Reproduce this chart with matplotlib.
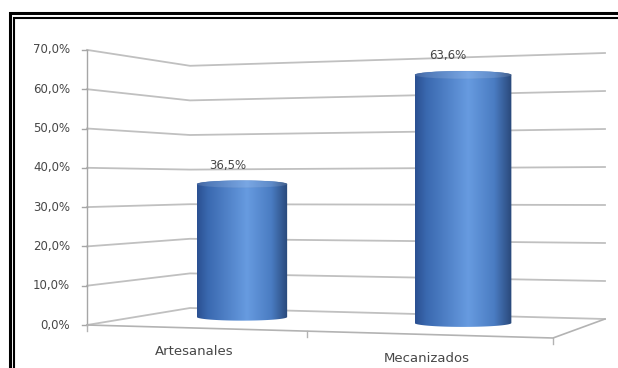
import numpy as np
import matplotlib.pyplot as plt
from matplotlib.patches import Ellipse, Polygon
from matplotlib.colors import LinearSegmentedColormap

categorias = ['Artesanales', 'Mecanizados']
valores = [36.5, 63.6]
etiquetas = ['36,5%', '63,6%']
ticks_y = [0, 10, 20, 30, 40, 50, 60, 70]
ticks_y_txt = ['0,0%', '10,0%', '20,0%', '30,0%', '40,0%', '50,0%', '60,0%', '70,0%']

# perspectiva de las paredes (en pixeles de la figura): x, base, pixeles por 1%
X_FR, Y0_FR, K_FR = 87, 325, 3.93      # arista frontal izquierda
X_ES, Y0_ES, K_ES = 190, 308, 3.46     # esquina del fondo
X_DE, Y0_DE, K_DE = 605, 319, 3.80     # borde derecho del fondo
X_PISO, Y_PISO = 553, 338              # esquina frontal derecha del piso

GRIS = '#c0c0c0'
TXT = '#474747'

cmap = LinearSegmentedColormap.from_list('cil', [
    (0.0, '#2b5091'), (0.12, '#3a69b0'), (0.55, '#679be0'),
    (0.82, '#4a7cc2'), (1.0, '#294879')])


def plano_barra(i):
    # centro, base y escala de la columna i (plano medio de profundidad)
    return 242 + 221 * i, 317 + 6 * i, 3.64 + 0.26 * i


def borde_frontal(u):
    # posicion sobre la arista frontal del piso, u en [0, 2] categorias
    t = u / 2
    f = t * 0.894 / (1 - 0.106 * t)
    return X_FR + f * (X_PISO - X_FR), Y0_FR + f * (Y_PISO - Y0_FR)


def cilindro(ax, xc, base, k, v):
    w = 12.4 * k
    e = 1.0 * k
    top = base - k * v
    t = np.linspace(0, np.pi, 60)
    pts = [(xc + w, top), (xc + w, base)]
    pts += list(zip(xc + w * np.cos(t), base + e * np.sin(t)))
    pts += [(xc - w, top)]
    pts += list(zip(xc + w * np.cos(t[::-1]), top - e * np.sin(t[::-1])))
    clip = Polygon(pts, closed=True, facecolor='none', edgecolor='none')
    ax.add_patch(clip)
    grad = np.linspace(0, 1, 256).reshape(1, -1)
    im = ax.imshow(grad, cmap=cmap, aspect='auto', interpolation='bilinear',
                   extent=(xc - w, xc + w, base + e, top - e), zorder=5)
    im.set_clip_path(clip)
    # tapa superior, apenas mas clara que el cuerpo
    tapa = Ellipse((xc, top), 2 * w, 2 * e, facecolor='none',
                   edgecolor='none')
    ax.add_patch(tapa)
    im2 = ax.imshow(grad, cmap=cmap, aspect='auto', interpolation='bilinear',
                    extent=(xc - w, xc + w, top + e, top - e), zorder=6,
                    alpha=0.9)
    im2.set_clip_path(tapa)
    ax.add_patch(Ellipse((xc, top), 2 * w, 2 * e, facecolor='white',
                         alpha=0.12, edgecolor='#3f6aa8', lw=0.5, zorder=6))
    return top


fig = plt.figure(figsize=(6.18, 3.68), dpi=100)
ax = fig.add_axes([0, 0, 1, 1])
ax.axis('off')

# lineas de division en pared lateral y fondo
for v, txt in zip(ticks_y, ticks_y_txt):
    yf = Y0_FR - K_FR * v
    ax.plot([X_FR, X_ES, X_DE], [yf, Y0_ES - K_ES * v, Y0_DE - K_DE * v],
            color=GRIS, lw=1.3, zorder=1)
    ax.plot([X_FR - 5, X_FR], [yf, yf], color='#a6a6a6', lw=1.0, zorder=2)
    ax.text(X_FR - 17, yf, txt, ha='right', va='center', fontsize=8.5,
            color=TXT, family='DejaVu Sans')

# eje vertical
ax.plot([X_FR, X_FR], [Y0_FR - K_FR * ticks_y[-1], Y0_FR], color='#a6a6a6',
        lw=1.0, zorder=2)

# piso
ax.plot([X_FR, X_PISO, X_DE], [Y0_FR, Y_PISO, Y0_DE], color='#b3b3b3',
        lw=1.2, zorder=2)
for u in [0, 1, 2]:
    x, y = borde_frontal(u)
    ax.plot([x, x], [y, y + 6], color='#b3b3b3', lw=1.0, zorder=2)

# columnas
for i, (cat, v, lab) in enumerate(zip(categorias, valores, etiquetas)):
    xc, base, k = plano_barra(i)
    top = cilindro(ax, xc, base, k, v)
    ax.text(xc - 3.9 * k, top - 5 * k, lab, ha='center', va='center',
            fontsize=8.5, color=TXT, zorder=7)
    x, y = borde_frontal(i + 0.5)
    ax.text(x, y + 24, cat, ha='center', va='center', fontsize=9.5,
            color=TXT)

# marco doble
ax.plot([9.5, 9.5, 618], [368, 13.2, 13.2], color='black', lw=2.2,
        solid_joinstyle='miter', zorder=10)
ax.plot([14.3, 14.3, 618], [368, 18, 18], color='black', lw=1.5,
        solid_joinstyle='miter', zorder=10)

ax.set_xlim(0, 618)
ax.set_ylim(368, 0)
fig.savefig('out.png', dpi=100)
